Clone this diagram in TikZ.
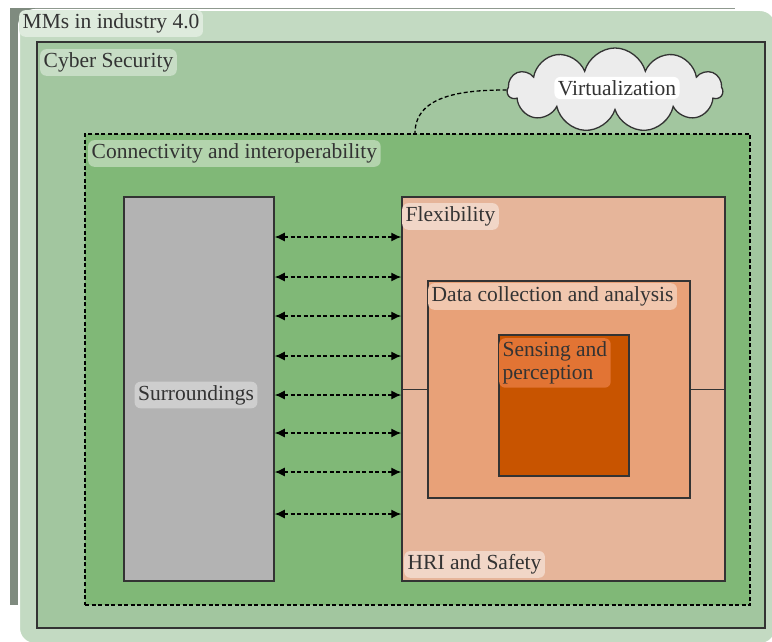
\documentclass[tikz,border=0pt]{standalone}
\usepackage{fontspec}
\setmainfont{Liberation Serif}
\usetikzlibrary{shapes.symbols,arrows.meta}
\definecolor{outergreen}{HTML}{C3DAC2}
\definecolor{cybergreen}{HTML}{A2C69F}
\definecolor{conngreen}{HTML}{80B877}
\definecolor{surrgray}{HTML}{B3B3B3}
\definecolor{flexpeach}{HTML}{E6B59A}
\definecolor{datapeach}{HTML}{E8A178}
\definecolor{sensorange}{HTML}{C85400}
\definecolor{inkgray}{HTML}{333333}
\tikzset{
  box/.style={draw=inkgray, line width=1.5pt, inner sep=0pt},
  lbl/.style={rounded corners=6pt, inner sep=3.5pt, text=inkgray,
    font=\rmfamily\fontsize{21.5}{23}\selectfont, align=left},
  dualarrow/.style={{Latex[length=10pt,width=9pt]}-{Latex[length=10pt,width=9pt]}, dash pattern=on 4pt off 2.5pt, line width=1.3pt, black}
}
\begin{document}
\begin{tikzpicture}[x=1pt,y=-1pt]
\clip (0,0) rectangle (772,642);
\fill[white] (0,0) rectangle (772,642);
% frame behind
\fill[color={rgb,255:red,127;green,139;blue,127}] (10,8) rectangle (735,605);
\draw[fill=outergreen, draw=white, line width=2pt, rounded corners=16pt] (19,10) rectangle (776,644);
\node[lbl, fill=outergreen!55!white, anchor=north west] (mmslbl) at (19,10) {MMs in industry 4.0};
% cyber security
\node[box, fill=cybergreen, minimum width=728pt, minimum height=586pt] (cyber) at (401,335) {};
\node[lbl, fill=cybergreen!60!white, anchor=north west] (cyberlbl) at (40,49) {Cyber Security};
% connectivity
\node[box, draw=black, line width=1.3pt, dash pattern=on 4pt off 2.5pt, fill=conngreen, minimum width=665pt, minimum height=471pt] (conn) at (417.5,369.5) {};
\node[lbl, fill=conngreen!60!white, anchor=north west] (connlbl) at (88,140) {Connectivity and interoperability};
% cloud
\node[cloud, cloud puffs=11, aspect=2.5, draw=inkgray, line width=1.3pt, fill={rgb,255:red,236;green,236;blue,236},
  minimum width=215pt, minimum height=84pt] (cloud) at (615,90) {};
\node[lbl, fill=white] (virtlbl) at (617,88) {Virtualization};
\draw[black, line width=1.3pt, dash pattern=on 4pt off 2.5pt] (cloud.west) to[out=180,in=90] (conn.north -| 415,0);
% surroundings and flexibility
\node[box, fill=surrgray, minimum width=150pt, minimum height=384pt] (surr) at (199,389) {};
\node[lbl, fill=surrgray!65!white] (surrlbl) at (196,395) {Surroundings};
\node[box, fill=flexpeach, minimum width=323pt, minimum height=384pt] (flex) at (563.5,389) {};
\node[lbl, fill=flexpeach!55!white, anchor=north west] (flexlbl) at (402,203) {Flexibility};
\node[lbl, fill=flexpeach!55!white, anchor=south west] (hrilbl) at (404,578) {HRI and Safety};
\node[box, fill=datapeach, minimum width=262pt, minimum height=217pt] (data) at (559,389.5) {};
\node[lbl, fill=datapeach!60!white, anchor=north west] (datalbl) at (428,283) {Data collection and analysis};
\node[box, fill=sensorange, minimum width=130pt, minimum height=141pt] (sens) at (564,405.5) {};
\node[lbl, fill={rgb,255:red,226;green,116;blue,52}, anchor=north west] (senslbl) at (499,338) {Sensing and\\perception};
\draw[line width=1.5pt, inkgray] (flex.west |- data.west) -- (data.west);
\draw[line width=1.5pt, inkgray] (data.east) -- (flex.east |- data.east);
% links
\foreach \y in {237,277,316,356,395,433,472,514}
  \draw[dualarrow] (surr.east |- 0,\y) -- (flex.west |- 0,\y);
\end{tikzpicture}
\end{document}
